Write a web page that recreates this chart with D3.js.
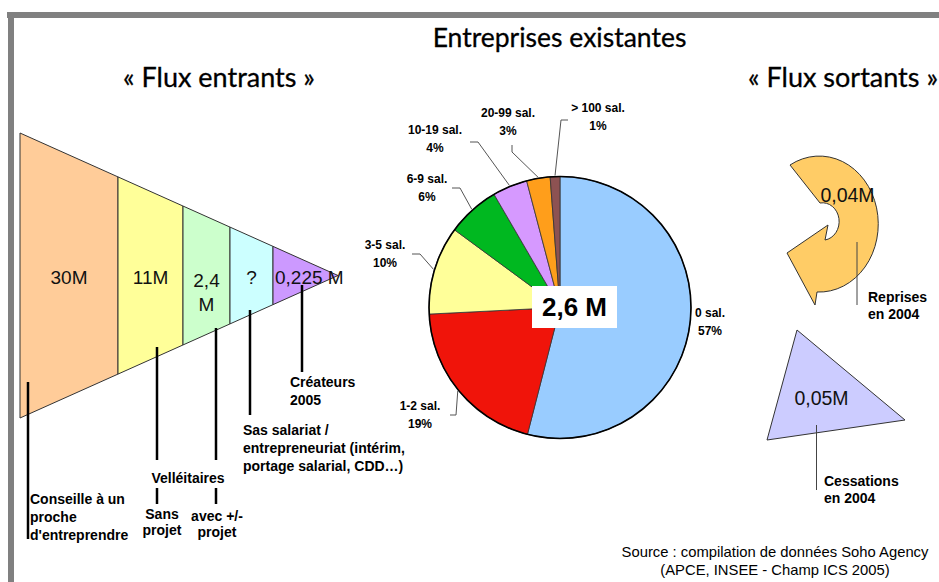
<!DOCTYPE html>
<html>
<head>
<meta charset="utf-8">
<script src="https://cdn.jsdelivr.net/npm/d3@7"></script>
<style>
  body { margin: 0; background: #fff; }
  svg { display: block; font-family: "Liberation Sans", Arial, sans-serif; }
</style>
</head>
<body>
<svg id="chart" width="939" height="582"></svg>
<script>
// flux entrants (funnel stages)
const funnelValues = ["30M", "11M", "2,4 M", "?", "0,225 M"];
const funnelColors = ["#ffcc99", "#ffff99", "#ccffcc", "#ccffff", "#cc99ff"];
const funnelNotes = [
    ["Conseille à un", "proche", "d'entreprendre"],
    ["Sans", "projet"],
    ["avec +/-", "projet"],
    ["Sas salariat /", "entrepreneuriat (intérim,", "portage salarial, CDD…)"],
    ["Créateurs", "2005"]
];
const groupNote = "Velléitaires";

// entreprises existantes (pie)
const pieCats = ["0 sal.", "1-2 sal.", "3-5 sal.", "6-9 sal.", "10-19 sal.", "20-99 sal.", "> 100 sal."];
const piePct = [57, 19, 10, 6, 4, 3, 1];
// share of the circle as it is drawn in the picture
const pieShare = [54, 20.2, 10.9, 6.5, 4.3, 2.9, 1.2];
const pieColors = ["#99ccff", "#f0140a", "#ffff99", "#00b820", "#d699ff", "#ff9e1b", "#8d5252"];
const pieTotal = "2,6 M";

// flux sortants
const outValues = ["0,04M", "0,05M"];
const outNames = [["Reprises", "en 2004"], ["Cessations", "en 2004"]];

const W = 939, H = 582;
const svg = d3.select("#chart");

// grey frame
svg.append("rect").attr("x", 7).attr("y", 12).attr("width", W - 7).attr("height", 6).attr("fill", "#808080");
svg.append("rect").attr("x", 8).attr("y", 12).attr("width", 6).attr("height", H - 12).attr("fill", "#808080");

// titles
const titles = [
    { t: "Entreprises existantes", x: 559.5, y: 47, s: 26.5 },
    { t: "« Flux entrants »", x: 219, y: 87, s: 27 },
    { t: "« Flux sortants »", x: 843, y: 87, s: 27 }
];
svg.selectAll(".title")
    .data(titles)
    .enter()
    .append("text")
    .attr("class", "title")
    .attr("x", d => d.x)
    .attr("y", d => d.y)
    .attr("text-anchor", "middle")
    .style("font-family", "Lato, 'Open Sans', sans-serif")
    .style("font-size", d => d.s + "px")
    .style("fill", "#000")
    .style("stroke", "#000")
    .style("stroke-width", 0.3)
    .text(d => d.t);

// ---------- funnel ----------
const funnelEdges = [20, 118, 183, 230, 273, 338];   // stage boundaries, last = apex
const fcy = 275.5;
const taper = d3.scaleLinear().domain([funnelEdges[0], funnelEdges[5]]).range([142.5, 0]);

const stages = funnelValues.map((v, i) => ({ v, i, x0: funnelEdges[i], x1: funnelEdges[i + 1] }));

svg.selectAll(".stage")
    .data(stages)
    .enter()
    .append("path")
    .attr("class", "stage")
    .attr("d", d => {
        const p = d3.path();
        p.moveTo(d.x0, fcy - taper(d.x0));
        p.lineTo(d.x1, fcy - taper(d.x1));
        p.lineTo(d.x1, fcy + taper(d.x1));
        p.lineTo(d.x0, fcy + taper(d.x0));
        p.closePath();
        return p.toString();
    })
    .attr("fill", d => funnelColors[d.i])
    .attr("stroke", "#333")
    .attr("stroke-width", 1);

svg.selectAll(".stageLabel")
    .data(stages)
    .enter()
    .append("text")
    .attr("class", "stageLabel")
    .attr("text-anchor", d => d.i === 4 ? "start" : "middle")
    .attr("y", d => d.i === 2 ? 287 : 283.5)
    .style("font-size", "19px")
    .style("fill", "#111")
    .each(function(d) {
        const parts = d.v === "2,4 M" ? ["2,4", "M"] : [d.v];
        const lx = d.i === 4 ? d.x0 + 2 : (d.x0 + d.x1) / 2;
        d3.select(this).selectAll("tspan")
            .data(parts)
            .enter()
            .append("tspan")
            .attr("x", lx)
            .attr("dy", (p, j) => j === 0 ? 0 : 24)
            .text(p => p);
    });

// leader lines for the funnel notes (x, segments of y)
const noteLines = [
    { x: 28, segs: [[382, 539]] },
    { x: 157, segs: [[347, 460], [488, 504]] },
    { x: 216, segs: [[328, 460], [488, 504]] },
    { x: 250, segs: [[310, 415]] },
    { x: 302, segs: [[285, 372]] }
];
const notePos = [
    { x: 30, y: 504, anchor: "start" },
    { x: 162, y: 519, anchor: "middle" },
    { x: 217, y: 521, anchor: "middle" },
    { x: 243, y: 435, anchor: "start" },
    { x: 290, y: 387, anchor: "start" }
];

noteLines.forEach(n => {
    n.segs.forEach(s => {
        svg.append("line")
            .attr("x1", n.x).attr("x2", n.x)
            .attr("y1", s[0]).attr("y2", s[1])
            .attr("stroke", "#000")
            .attr("stroke-width", 2.5);
    });
});

svg.selectAll(".note")
    .data(funnelNotes)
    .enter()
    .append("text")
    .attr("class", "note")
    .attr("text-anchor", (d, i) => notePos[i].anchor)
    .attr("y", (d, i) => notePos[i].y)
    .style("font-size", "14px")
    .style("font-weight", "bold")
    .each(function(lines, i) {
        d3.select(this).selectAll("tspan")
            .data(lines)
            .enter()
            .append("tspan")
            .attr("x", notePos[i].x)
            .attr("dy", (l, j) => j === 0 ? 0 : (i === 1 || i === 2 ? 16 : 18))
            .text(l => l);
    });

svg.append("text")
    .attr("x", 188)
    .attr("y", 483)
    .attr("text-anchor", "middle")
    .style("font-size", "14px")
    .style("font-weight", "bold")
    .text(groupNote);

// ---------- pie ----------
const pcx = 560, pcy = 307.5, pr = 131;
const pieData = pieCats.map((c, i) => ({ cat: c, pct: piePct[i], share: pieShare[i], color: pieColors[i] }));
const pie = d3.pie().sort(null).value(d => d.share);
const arcs = pie(pieData);
const arc = d3.arc().innerRadius(0).outerRadius(pr);
const edgeArc = d3.arc().innerRadius(pr + 1).outerRadius(pr + 1);

const pieG = svg.append("g").attr("transform", `translate(${pcx},${pcy})`);

pieG.selectAll(".slice")
    .data(arcs)
    .enter()
    .append("path")
    .attr("class", "slice")
    .attr("d", arc)
    .attr("fill", d => d.data.color)
    .attr("stroke", "#333")
    .attr("stroke-width", 0.8);

pieG.append("circle")
    .attr("r", pr)
    .attr("fill", "none")
    .attr("stroke", "#000")
    .attr("stroke-width", 1.6);

// label positions and leader starts
const pieLabelPos = [
    { x: 710, y: 317 },
    { x: 420, y: 410, lead: [[450, 415], [456, 415]] },
    { x: 385, y: 249, lead: [[412, 254], [420, 254]] },
    { x: 427, y: 183, lead: [[452, 188], [460, 188]] },
    { x: 435, y: 134, lead: [[470, 142], [478, 142]] },
    { x: 508, y: 117, lead: [[512, 145], [512, 152]] },
    { x: 598, y: 112, lead: [[568, 120], [561, 120]] }
];

arcs.forEach((d, i) => {
    const lp = pieLabelPos[i];
    if (lp.lead) {
        const c = edgeArc.centroid(d);
        const pts = lp.lead.concat([[pcx + c[0], pcy + c[1]]]);
        svg.append("path")
            .attr("d", d3.line()(pts))
            .attr("fill", "none")
            .attr("stroke", "#555")
            .attr("stroke-width", 1);
    }
    svg.append("text")
        .attr("x", lp.x)
        .attr("y", lp.y)
        .attr("text-anchor", "middle")
        .style("font-size", "12px")
        .style("font-weight", "bold")
        .text(d.data.cat);
    svg.append("text")
        .attr("x", lp.x)
        .attr("y", lp.y + 18)
        .attr("text-anchor", "middle")
        .style("font-size", "12px")
        .style("font-weight", "bold")
        .text(d.data.pct + "%");
});

// total box
svg.append("rect")
    .attr("x", 532).attr("y", 286)
    .attr("width", 85).attr("height", 42)
    .attr("fill", "#fff");
svg.append("text")
    .attr("x", 574.5).attr("y", 316)
    .attr("text-anchor", "middle")
    .style("font-size", "26px")
    .style("font-weight", "bold")
    .text(pieTotal);

// ---------- flux sortants ----------
// circular arrow (reprises)
const arrowPath = "M790,165 A59,68 0 1 1 817,292 L815,305 L787,253 L828,225 L825,240 A16,18 0 1 0 820,203 Z";
svg.append("path")
    .attr("d", arrowPath)
    .attr("fill", "#ffcc66")
    .attr("stroke", "#333")
    .attr("stroke-width", 1);

// triangle (cessations)
const tri = [[797, 330], [905, 420], [767, 440]];
svg.append("path")
    .attr("d", d3.line()(tri) + "Z")
    .attr("fill", "#ccccff")
    .attr("stroke", "#333")
    .attr("stroke-width", 1);

const outPos = [
    { vx: 847.5, vy: 202, lx: 857, ly: [242, 305], nx: 868, ny: 302 },
    { vx: 821.5, vy: 405, lx: 816.5, ly: [425, 490], nx: 824, ny: 486 }
];

outValues.forEach((v, i) => {
    const p = outPos[i];
    svg.append("text")
        .attr("x", p.vx).attr("y", p.vy)
        .attr("text-anchor", "middle")
        .style("font-size", "19.5px")
        .style("fill", "#111")
        .text(v);
    svg.append("line")
        .attr("x1", p.lx).attr("x2", p.lx)
        .attr("y1", p.ly[0]).attr("y2", p.ly[1])
        .attr("stroke", "#444")
        .attr("stroke-width", 1);
    const t = svg.append("text")
        .attr("y", p.ny)
        .style("font-size", "14px")
        .style("font-weight", "bold");
    t.selectAll("tspan")
        .data(outNames[i])
        .enter()
        .append("tspan")
        .attr("x", p.nx)
        .attr("dy", (l, j) => j === 0 ? 0 : 17)
        .text(l => l);
});

// source
const source = ["Source : compilation de données Soho Agency", "(APCE, INSEE - Champ ICS 2005)"];
svg.selectAll(".src")
    .data(source)
    .enter()
    .append("text")
    .attr("class", "src")
    .attr("x", 775)
    .attr("y", (d, i) => 557 + i * 18)
    .attr("text-anchor", "middle")
    .style("font-size", "14.8px")
    .text(d => d);
</script>
</body>
</html>
